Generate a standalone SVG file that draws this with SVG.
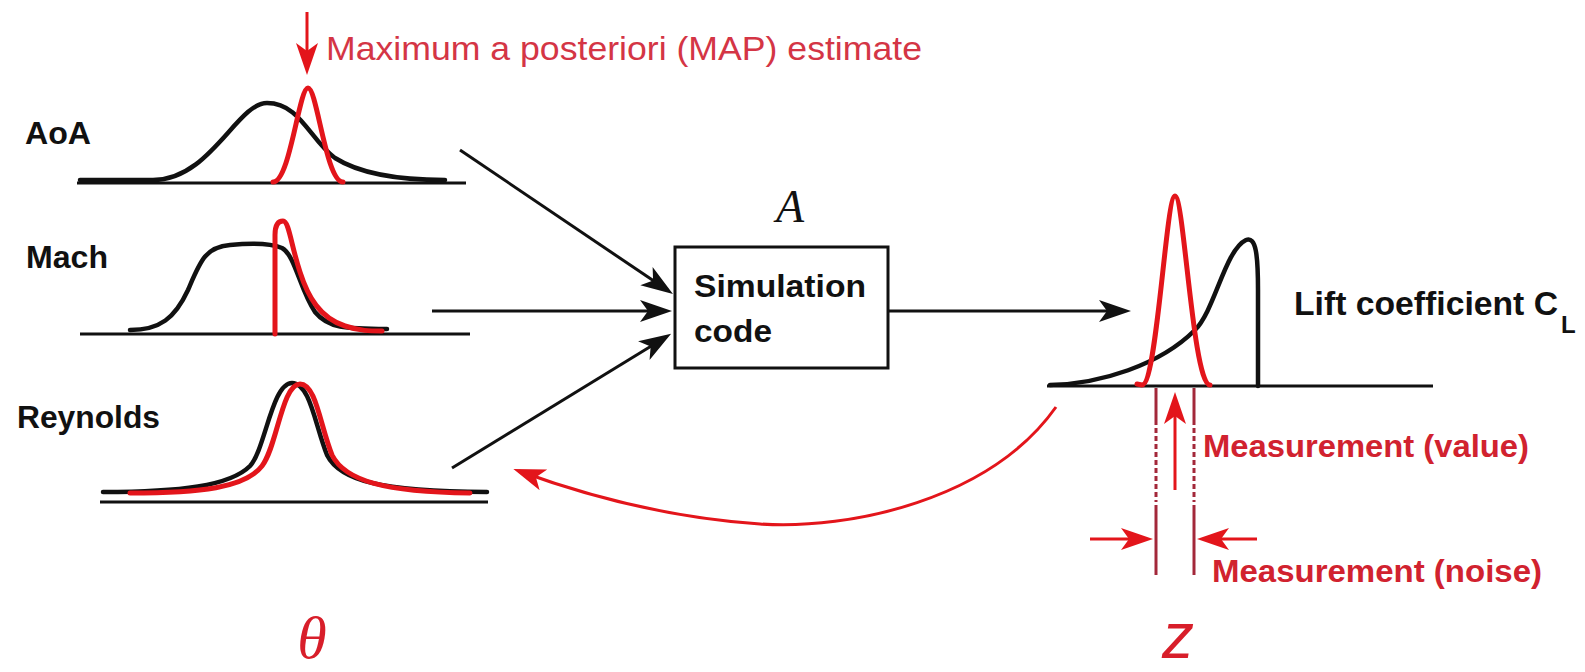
<svg xmlns="http://www.w3.org/2000/svg" width="1585" height="672" viewBox="0 0 1585 672">
<style>
.axis{stroke:#111;stroke-width:3;fill:none}
.pk{stroke:#111;stroke-width:4.5;fill:none;stroke-linejoin:round;stroke-linecap:round}
.pr{stroke:#e3151b;stroke-width:5;fill:none;stroke-linejoin:round;stroke-linecap:round}
.lbl{font-family:"Liberation Sans",Arial,sans-serif;font-weight:bold;font-size:32px;fill:#111}
.rtxt{font-family:"Liberation Sans",Arial,sans-serif;font-weight:bold;font-size:31px;fill:#d1222f}
.conn{stroke:#111;stroke-width:3;fill:none}
.rconn{stroke:#e3151b;stroke-width:3;fill:none}
.dl{stroke:#a3283a;stroke-width:3;fill:none}
</style>
<defs>
<marker id="ahb" markerUnits="userSpaceOnUse" viewBox="-34 -12 36 24" markerWidth="36" markerHeight="24" refX="-6" refY="0" orient="auto"><path d="M0,0 L-32,-11 L-24,0 L-32,11 Z" fill="#111"/></marker>
<marker id="ahr" markerUnits="userSpaceOnUse" viewBox="-34 -12 36 24" markerWidth="36" markerHeight="24" refX="-6" refY="0" orient="auto"><path d="M0,0 L-32,-11 L-24,0 L-32,11 Z" fill="#e3151b"/></marker>
</defs>
<rect width="1585" height="672" fill="#fff"/>

<g id="map-label">
<text x="326" y="60" font-family="Liberation Sans, Arial, sans-serif" font-size="33" fill="#d43545" textLength="596" lengthAdjust="spacingAndGlyphs">Maximum a posteriori (MAP) estimate</text>
</g>

<g id="aoa">
<text class="lbl" x="25" y="144" textLength="66" lengthAdjust="spacingAndGlyphs">AoA</text>
<line class="axis" x1="77" y1="183" x2="466" y2="183"/>
<path class="pk" d="M80,180 L153,180 C210,180 237,103 267,103 C300,103 310,140 335,158 C365,177 410,180 445,180"/>
<path class="pr" d="M273,182 C290,182 299,88 308,88 C317,88 326,182 343,182"/>
</g>

<g id="mach">
<text class="lbl" x="26" y="268" textLength="82" lengthAdjust="spacingAndGlyphs">Mach</text>
<line class="axis" x1="80" y1="334" x2="470" y2="334"/>
<path class="pk" d="M130,330 C160,330 175,318 188,290 C200,262 205,247 230,245 C250,243 270,243 282,248 C295,255 300,290 315,312 C328,328 345,329 387,329"/>
<path class="pr" d="M275,334 L275,235 C275,224 279,221 283,221 C289,221 291,245 300,272 C308,297 320,318 345,326 C360,331 370,331 382,331"/>
</g>

<g id="reynolds">
<text class="lbl" x="17" y="428" textLength="143" lengthAdjust="spacingAndGlyphs">Reynolds</text>
<line class="axis" x1="100" y1="502" x2="488" y2="502"/>
<path class="pk" d="M103,492 C180,492 230,486 250,466 C265,450 272,383 292,383 C310,383 315,425 327,455 C340,481 380,491 487,492"/>
<path class="pr" d="M130,493 C200,493 245,488 262,466 C277,447 282,384 300,384 C316,384 320,425 332,455 C345,481 385,492 470,493"/>
</g>

<g id="sim">
<text x="790" y="222" text-anchor="middle" font-family="Liberation Serif, Times New Roman, serif" font-style="italic" font-size="46" fill="#111">A</text>
<rect x="675" y="247" width="213" height="121" fill="#fff" stroke="#111" stroke-width="3"/>
<text class="lbl" x="694" y="297" textLength="172" lengthAdjust="spacingAndGlyphs">Simulation</text>
<text class="lbl" x="694" y="342" textLength="78" lengthAdjust="spacingAndGlyphs">code</text>
</g>

<g id="lift">
<line class="axis" x1="1047" y1="386" x2="1433" y2="386"/>
<path class="pk" d="M1050,385 C1100,384 1160,365 1195,330 C1215,310 1225,250 1246,240 C1256,236 1258,255 1258,290 L1258,386"/>
<path class="pr" d="M1137,384 L1142,385 C1157,385 1166,196 1175,196 C1184,196 1193,385 1210,385"/>
<text class="lbl" x="1294" y="315" textLength="264" lengthAdjust="spacingAndGlyphs" style="font-size:34px">Lift coefficient C</text>
<text class="lbl" x="1561" y="333" style="font-size:24px">L</text>
</g>

<g id="measurement">
<line class="dl" x1="1156" y1="388" x2="1156" y2="420"/>
<line class="dl" x1="1156" y1="420" x2="1156" y2="502" stroke-dasharray="5 3"/>
<line class="dl" x1="1156" y1="505" x2="1156" y2="575"/>
<line class="dl" x1="1194" y1="388" x2="1194" y2="420"/>
<line class="dl" x1="1194" y1="420" x2="1194" y2="502" stroke-dasharray="5 3"/>
<line class="dl" x1="1194" y1="505" x2="1194" y2="575"/>
<text class="rtxt" x="1203" y="457" textLength="326" lengthAdjust="spacingAndGlyphs">Measurement (value)</text>
<text class="rtxt" x="1212" y="582" textLength="330" lengthAdjust="spacingAndGlyphs">Measurement (noise)</text>
</g>

<g id="theta">
<text x="312" y="658" text-anchor="middle" font-family="Liberation Serif, Times New Roman, serif" font-style="italic" font-size="60" fill="#d81e2a">θ</text>
</g>
<g id="z">
<text x="1178" y="658" text-anchor="middle" font-family="Liberation Sans, Arial, sans-serif" font-style="italic" font-size="64" fill="#d81e2a">z</text>
</g>

<g id="connectors">
<line class="conn" x1="460" y1="150" x2="668" y2="290.6" marker-end="url(#ahb)"/>
<line class="conn" x1="432" y1="311" x2="666" y2="311" marker-end="url(#ahb)"/>
<line class="conn" x1="452" y1="468" x2="666" y2="337" marker-end="url(#ahb)"/>
<line class="conn" x1="888" y1="311" x2="1125" y2="311" marker-end="url(#ahb)"/>
<line class="rconn" x1="307" y1="12" x2="307" y2="69" stroke="#c02030" marker-end="url(#ahr)"/>
<line class="rconn" x1="1175" y1="490" x2="1175" y2="398" marker-end="url(#ahr)"/>
<line class="rconn" x1="1090" y1="539" x2="1147" y2="539" marker-end="url(#ahr)"/>
<line class="rconn" x1="1257" y1="539" x2="1203" y2="539" marker-end="url(#ahr)"/>
<path class="rconn" d="M1056,407 C990,500 850,530 760,524 C670,518 590,497 519,471" marker-end="url(#ahr)"/>
</g>
</svg>
